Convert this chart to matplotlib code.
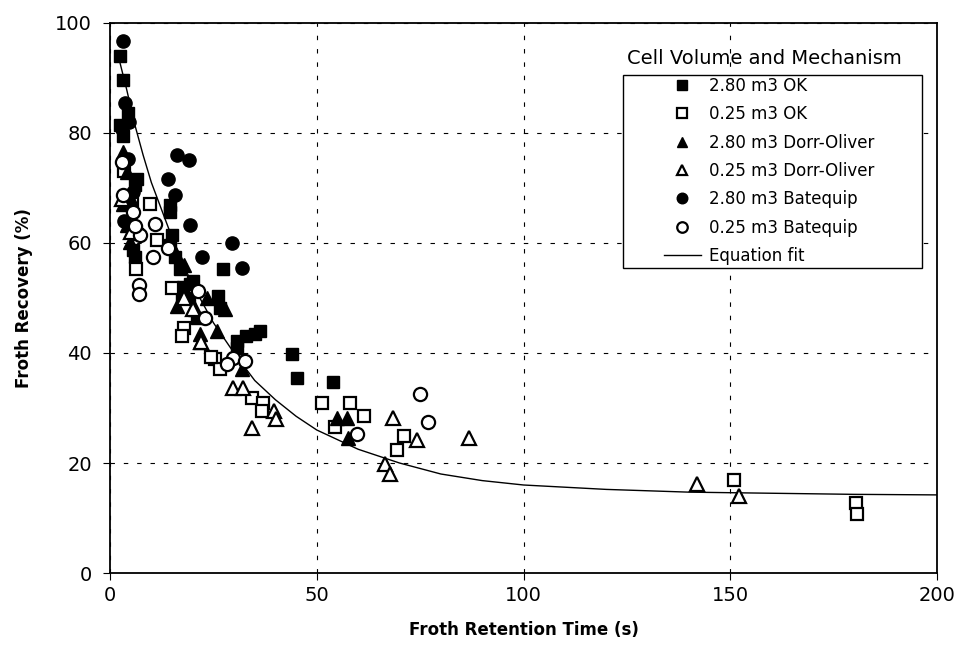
import matplotlib
matplotlib.use("Agg")
import matplotlib.pyplot as plt
from matplotlib.patches import Rectangle

# 2.80 m3 OK (filled squares)
ok_big_x = [2.4, 3.2, 4.4, 3.2, 2.5, 6.5, 6.0, 6.5, 5.6, 6.0, 14.5, 14.5, 15.0, 14.5, 15.7, 17.0,
            27.4, 17.7, 19.4, 17.4, 19.0, 26.0, 26.6, 21.0, 30.7, 33.0, 36.3, 30.7, 44.0, 45.3,
            54.0, 20.0, 35.0]
ok_big_y = [94, 89.7, 83.7, 79.5, 81.5, 71.6, 70.5, 61.7, 58.8, 57.5, 66.9, 65.6, 61.5, 59.7, 57.5, 55.3,
            55.2, 52, 52.6, 50, 50, 50.3, 48.2, 46.3, 42.1, 43, 44, 40.9, 39.8, 35.4,
            34.7, 53, 43.5]

# 0.25 m3 OK (open squares)
ok_small_x = [5.3, 9.7, 11.4, 6.3, 15.0, 18.0, 17.4, 25.4, 26.6, 34.4, 37.0, 36.8, 51.3, 58.0,
              61.5, 54.5, 71.0, 69.5, 150.8, 180.4, 180.6, 3.5, 24.5]
ok_small_y = [67.8, 67, 60.5, 55.3, 51.8, 44.5, 43, 38.9, 37, 31.8, 30.9, 29.5, 31, 31,
              28.6, 26.6, 25, 22.4, 17, 12.8, 10.8, 73, 39.2]

# 2.80 m3 Dorr-Oliver (filled triangles)
do_big_x = [3.2, 4.0, 3.2, 4.0, 4.8, 7.0, 16.0, 16.2, 23.5, 27.8, 21.8, 21.8, 25.9, 32.0,
            55.0, 57.4, 57.6, 18.0, 20.5, 5.0]
do_big_y = [76.5, 72.9, 67, 63.3, 60.2, 62, 58, 48.5, 50, 48, 43.4, 42, 44, 37,
            28.2, 28.2, 24.6, 56, 48, 68]

# 0.25 m3 Dorr-Oliver (open triangles)
do_small_x = [20.0, 29.8, 32.2, 34.4, 39.7, 40.2, 66.6, 67.8, 68.5, 74.3, 86.7, 141.9, 152.0,
              3.0, 5.0, 18.0, 22.0]
do_small_y = [48, 33.6, 33.6, 26.4, 29.5, 28, 19.9, 18, 28.2, 24.2, 24.6, 16.1, 14,
              68, 62, 50, 42]

# 2.80 m3 Batequip (filled circles)
bq_big_x = [3.2, 3.6, 2.9, 4.4, 5.6, 3.5, 16.2, 19.0, 14.0, 15.7, 19.4, 29.5, 22.3, 32.0, 4.5]
bq_big_y = [96.7, 85.5, 80.7, 75.2, 69.3, 64, 76, 75, 71.6, 68.7, 63.3, 60, 57.5, 55.5, 82]

# 0.25 m3 Batequip (open circles)
bq_small_x = [2.9, 3.2, 5.6, 7.3, 10.4, 10.9, 14.0, 7.0, 7.0, 21.3, 23.0, 29.8, 32.7, 28.3,
              59.8, 75.0, 77.0, 6.0]
bq_small_y = [74.7, 68.7, 65.6, 61.5, 57.5, 63.5, 59, 52.4, 50.8, 51.2, 46.3, 39, 38.5, 38,
              25.3, 32.6, 27.5, 63]

# Equation fit
fit_x = [2, 4, 6, 8, 10, 12, 15, 18, 21, 25, 30, 35, 40, 45, 50, 60, 70, 80, 90, 100,
         120, 140, 160, 180, 200]
fit_y = [94, 88, 81.5, 76, 71, 67, 61, 55.5, 51, 45.5, 40, 35, 31.5, 28.5, 26, 22.5, 20, 18,
         16.8, 16, 15.2, 14.7, 14.5, 14.3, 14.2]

plt.rcParams['font.family'] = ['DejaVu Sans']

fig = plt.figure(figsize=(9.6, 6.59), dpi=100)
ax = fig.add_axes([0.1146, 0.1305, 0.8615, 0.8346])

ms = 9.5
ax.plot(ok_big_x, ok_big_y, 's', ms=9, mfc='black', mec='black', label='2.80 m3 OK', zorder=3)
ax.plot(ok_small_x, ok_small_y, 's', ms=9, mfc='white', mec='black', mew=1.6,
        label='0.25 m3 OK', zorder=3)
ax.plot(do_big_x, do_big_y, '^', ms=ms, mfc='black', mec='black', label='2.80 m3 Dorr-Oliver', zorder=3)
ax.plot(do_small_x, do_small_y, '^', ms=ms, mfc='white', mec='black', mew=1.6,
        label='0.25 m3 Dorr-Oliver', zorder=3)
ax.plot(bq_big_x, bq_big_y, 'o', ms=ms, mfc='black', mec='black', label='2.80 m3 Batequip', zorder=3)
ax.plot(bq_small_x, bq_small_y, 'o', ms=ms, mfc='white', mec='black', mew=1.6,
        label='0.25 m3 Batequip', zorder=3)
ax.plot(fit_x, fit_y, '-', color='black', lw=1.0, label='Equation fit', zorder=2)

ax.set_xlim(0, 200)
ax.set_ylim(0, 100)
ax.set_xticks([0, 50, 100, 150, 200])
ax.set_yticks([0, 20, 40, 60, 80, 100])
ax.tick_params(axis='y', labelsize=14, direction='out', length=5, pad=8)
ax.tick_params(axis='x', labelsize=14, direction='out', length=5, pad=4)
ax.grid(True, color='black', linestyle=(0, (4, 8)), linewidth=0.8)
for s in ax.spines.values():
    s.set_linewidth(1.3)

ax.set_xlabel('Froth Retention Time (s)', fontsize=12, fontweight='bold', labelpad=12)
ax.set_ylabel('Froth Recovery (%)', fontsize=12, fontweight='bold', labelpad=16)

# legend: title sits above a separate white box
ax.add_patch(Rectangle((0.620, 0.555), 0.362, 0.35, transform=ax.transAxes,
                       facecolor='white', edgecolor='black', lw=1.0, zorder=4))
ax.text(0.625, 0.935, 'Cell Volume and Mechanism', transform=ax.transAxes,
        fontsize=14, ha='left', va='center', zorder=5)
leg = ax.legend(loc='upper left', bbox_to_anchor=(0.670, 0.902), frameon=False,
                fontsize=12, borderpad=0, borderaxespad=0, handlelength=2.2,
                handletextpad=0.5, labelspacing=0.62, markerscale=0.8)
leg.set_zorder(6)

plt.savefig('out.png', dpi=100)
